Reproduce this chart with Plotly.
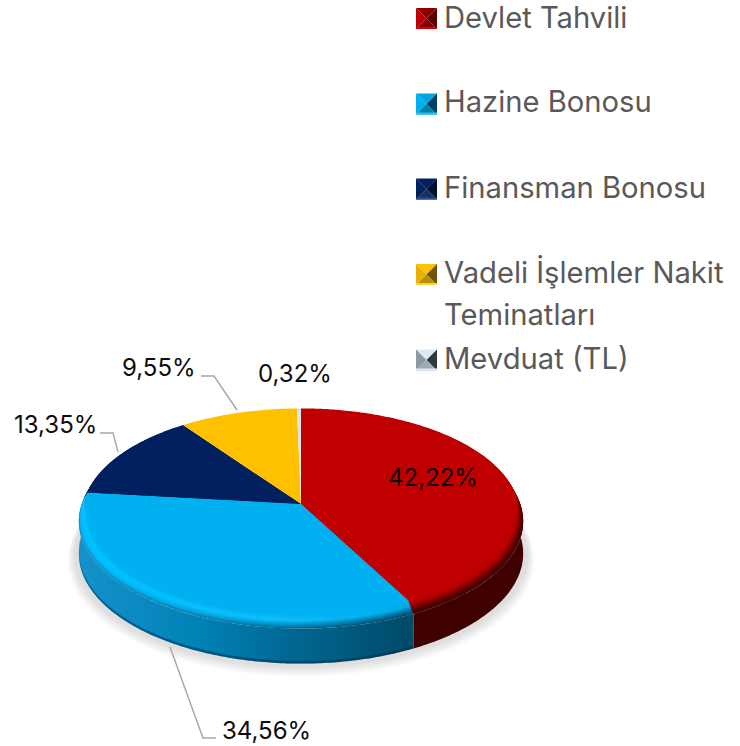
import math
import numpy as np
import plotly.graph_objects as go

# ---------- data ----------
categories = ["Devlet Tahvili", "Hazine Bonosu", "Finansman Bonosu",
              "Vadeli İşlemler Nakit\nTeminatları", "Mevduat (TL)"]
values = [42.22, 34.56, 13.35, 9.55, 0.32]
colors = ["#C00000", "#00B0F0", "#002060", "#FFC000", "#D9E4EE"]

# ---------- pie geometry (pixels on a 740x746 axis) ----------
CX, CY = 301, 504
RX, RY = 217, 103.7
K = 0.085
BEVEL_R, BEVEL_D, WALL_D = 1.02, 8, 40
INSET = 0.02
FONT = "Inter"


def project(theta, r=1.0, drop=0.0):
    s, u = np.sin(theta), np.cos(theta)
    den = 1 + K * r * u
    return CX + RX * r * s / den, CY - (RY * r * u - drop) / den


def arc(a0, a1, n=None):
    n = n or max(6, int((a1 - a0) * 80))
    return np.linspace(a0, a1, n)


def inner_radius(theta):
    """Flat face radius: full at the back, slightly inset where the bevel shows."""
    w = np.clip((0.15 - np.cos(theta)) / 0.35, 0, 1)
    return 1 - INSET * w * w * (3 - 2 * w)


def mix(c1, c2, t):
    a = [int(c1[i:i + 2], 16) for i in (1, 3, 5)]
    b = [int(c2[i:i + 2], 16) for i in (1, 3, 5)]
    return "rgb(%d,%d,%d)" % tuple(round(x + (y - x) * t) for x, y in zip(a, b))


def ramp(stops, t):
    for (t0, c0), (t1, c1) in zip(stops, stops[1:]):
        if t <= t1:
            return mix(c0, c1, (t - t0) / (t1 - t0))
    return mix(stops[-1][1], stops[-1][1], 0)


fig = go.Figure()


def poly(xs, ys, fill=None, grad=None):
    kw = dict(fillgradient=grad) if grad else dict(fillcolor=fill)
    fig.add_trace(go.Scatter(x=list(xs), y=list(ys), mode="none", fill="toself",
                             hoverinfo="skip", showlegend=False, **kw))


def hgrad(scale, start, stop):
    return dict(type="horizontal", colorscale=scale, start=start, stop=stop)


# slice angles, clockwise from the top
edges = np.concatenate([[0], np.cumsum(values)]) / sum(values) * 2 * math.pi
spans = list(zip(edges[:-1], edges[1:]))

# ---------- soft shadow ----------
a = arc(1.3, 5.0, 120)
for i in range(8):
    grow = 1.05 - i * 0.004
    x, y = project(a, BEVEL_R * grow, WALL_D + 6 - i * 0.7)
    poly(x, y, fill="rgba(0,0,0,0.016)")

# ---------- side walls ----------
BLUE_X0, BLUE_X1 = 80, 411
wall_blue = [[0, "#1492CA"], [0.36, "#0082B6"], [0.66, "#006690"], [1, "#004A68"]]
for idx, (a0, a1) in list(enumerate(spans))[:2]:
    t = arc(a0, a1, 160)
    xb, yb = project(t, BEVEL_R, WALL_D)
    xt, yt = project(t[::-1], BEVEL_R, BEVEL_D)
    xs, ys = np.r_[xb, xt], np.r_[yb, yt]
    if idx == 0:
        poly(xs, ys, fill="#3F0000")
    else:
        poly(xs, ys, grad=hgrad(wall_blue, BLUE_X0, BLUE_X1))
        # darker foot of the wall
        xb2, yb2 = project(t[::-1], BEVEL_R, WALL_D - 2.5)
        poly(np.r_[xb, xb2], np.r_[yb, yb2], fill="rgba(0,40,70,0.45)")

# ---------- bevel, painted outside-in ----------
LEFT = [(0, "#00B0F0"), (0.35, "#00C2FF"), (0.75, "#00BEFF"), (1, "#1492CA")]
MID = [(0, "#00B0F0"), (0.45, "#10C0FF"), (0.75, "#0098D0"), (1, "#006E9C")]
RIGHT = [(0, "#00B0F0"), (0.45, "#00A8E4"), (0.75, "#006E98"), (1, "#004A68")]
RED = [(0, "#C00000"), (0.35, "#A80000"), (0.75, "#5A0000"), (1, "#3F0000")]
NAVY = [(0, "#002060"), (1, "#001238")]
STEPS = 12


def layer(a0, a1, f):
    th = arc(a0, a1)
    r0 = inner_radius(th)
    x, y = project(th, r0 + (BEVEL_R - r0) * f, BEVEL_D * f)
    return np.r_[x, CX], np.r_[y, CY]


for i in range(STEPS, 0, -1):
    f = i / STEPS
    for idx, stops in ((2, NAVY), (0, RED)):
        x, y = layer(*spans[idx], f)
        poly(x, y, fill=ramp(stops, f))
    x, y = layer(*spans[1], f)
    poly(x, y, grad=hgrad([[0, ramp(LEFT, f)], [0.6, ramp(MID, f)], [1, ramp(RIGHT, f)]], BLUE_X0, BLUE_X1))

# ---------- flat top ----------
for (a0, a1), c in zip(spans, colors):
    x, y = layer(a0, a1, 0)
    poly(x, y, fill=c)

# ---------- leader lines ----------
leaders = [((201, 214, 237), (376, 376, 410)),
           ((100, 113, 118), (433, 433, 452)),
           ((170, 203, 216), (647, 738, 738))]
for lx, ly in leaders:
    fig.add_trace(go.Scatter(x=lx, y=ly, mode="lines", hoverinfo="skip", showlegend=False,
                             line=dict(color="#A6A6A6", width=1.4)))

# ---------- legend swatches ----------
swatch_faces = [
    ("#8E0000", "#C00000", "#5E0000", "#860000", "#D80000"),
    ("#00A4E0", "#00B0F0", "#004060", "#0080AC", "#22C0FA"),
    ("#002060", "#00205C", "#000F30", "#1A3060", "#244A90"),
    ("#FFC000", "#E8B000", "#705400", "#B89000", "#FFD040"),
    ("#DCEAF6", "#8C9AA6", "#30383E", "#A0A8B0", "#E4ECF2"),
]
swatch_y = [18.5, 104, 189, 274.5, 360]
SW = 10.5
SX = 426.5
for sy, (top, left, right, bottom, strip) in zip(swatch_y, swatch_faces):
    poly([SX - SW, SX + SW, SX], [sy - SW, sy - SW, sy], fill=top)
    poly([SX - SW, SX - SW, SX], [sy - SW, sy + SW, sy], fill=left)
    poly([SX + SW, SX + SW, SX], [sy - SW, sy + SW, sy], fill=right)
    poly([SX - SW, SX + SW, SX], [sy + SW, sy + SW, sy], fill=bottom)
    poly([SX - SW, SX + SW, SX + SW, SX - SW],
         [sy + SW - 2, sy + SW - 2, sy + SW, sy + SW], fill=strip)

# ---------- text ----------
ann = []
for txt, ys in zip(categories, ([17], [101], [187], [272, 314], [358])):
    for line, ty in zip(txt.split("\n"), ys):
        ann.append(dict(x=443, y=ty, text=line, xanchor="left", yanchor="middle", showarrow=False,
                        borderpad=0, font=dict(family=FONT, size=29.2, color="#595959")))
label_pos = [(432.5, 477), (266, 730), (55, 424), (158.5, 367), (295, 373)]
for v, (lx, ly) in zip(values, label_pos):
    ann.append(dict(x=lx, y=ly, text=f"{v:.2f}%".replace(".", ","), xanchor="center", yanchor="middle",
                    showarrow=False, font=dict(family=FONT, size=24, color="#0D0D0D")))

fig.update_layout(
    width=740, height=746, autosize=False,
    margin=dict(l=0, r=0, t=0, b=0),
    paper_bgcolor="white", plot_bgcolor="white",
    showlegend=False, annotations=ann,
    xaxis=dict(range=[0, 740], visible=False, fixedrange=True),
    yaxis=dict(range=[746, 0], visible=False, fixedrange=True),
)
fig.write_html("out.html", config=dict(displayModeBar=False),
               post_script="document.body.style.margin='0';document.documentElement.style.overflow='hidden';")
